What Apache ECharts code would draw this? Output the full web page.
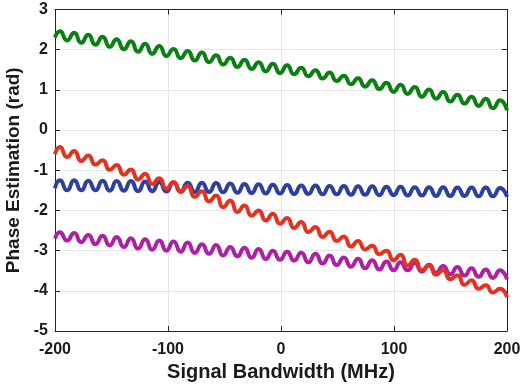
<!DOCTYPE html>
<html>
<head>
<meta charset="utf-8">
<script src="https://cdn.jsdelivr.net/npm/echarts@6/dist/echarts.min.js"></script>
<style>html,body{margin:0;padding:0;background:#fff}#c{width:521px;height:386px}</style>
</head>
<body>
<div id="c"></div>
<script>
// Frequency positions (MHz) of the sampled extrema of the ripples
var freq = [-200, -195.6, -189.3, -183.0, -176.8, -170.5, -164.2, -157.9, -151.6, -145.4, -139.1, -132.8, -126.5, -120.2, -114.0, -107.7,
  -101.4, -95.1, -88.8, -82.6, -76.3, -70.0, -63.7, -57.4, -51.2, -44.9, -38.6, -32.3, -26.0, -19.8, -13.5, -7.2,
  -0.9, 5.4, 11.6, 17.9, 24.2, 30.5, 36.8, 43.0, 49.3, 55.6, 61.9, 68.2, 74.4, 80.7, 87.0, 93.3,
  99.6, 105.8, 112.1, 118.4, 124.7, 131.0, 137.2, 143.5, 149.8, 156.1, 162.4, 168.6, 174.9, 181.2, 187.5, 193.8, 200];

var greenVals = [2.30,
  2.46, 2.23, 2.42, 2.17, 2.37, 2.12, 2.32, 2.07, 2.26, 2.01, 2.21, 1.95, 2.15, 1.90, 2.09, 1.84,
  2.02, 1.79, 1.97, 1.73, 1.93, 1.69, 1.86, 1.63, 1.80, 1.57, 1.75, 1.52, 1.69, 1.46, 1.65, 1.42,
  1.61, 1.39, 1.55, 1.34, 1.49, 1.28, 1.43, 1.22, 1.35, 1.14, 1.29, 1.08, 1.24, 1.02, 1.18, 0.95,
  1.13, 0.90, 1.07, 0.83, 1.01, 0.78, 0.95, 0.71, 0.88, 0.66, 0.83, 0.60, 0.78, 0.54, 0.74, 0.49];

var redVals = [-0.60,
  -0.42, -0.67, -0.52, -0.77, -0.63, -0.86, -0.75, -0.99, -0.87, -1.11, -0.98, -1.23, -1.09, -1.34, -1.20, -1.46,
  -1.29, -1.54, -1.39, -1.66, -1.52, -1.78, -1.63, -1.92, -1.75, -2.04, -1.88, -2.13, -2.00, -2.25, -2.08, -2.33,
  -2.19, -2.44, -2.29, -2.54, -2.41, -2.66, -2.53, -2.76, -2.65, -2.90, -2.76, -2.97, -2.88, -3.09, -3.00, -3.24,
  -3.10, -3.37, -3.23, -3.49, -3.37, -3.60, -3.49, -3.71, -3.61, -3.85, -3.74, -3.95, -3.86, -4.04, -3.95, -4.16];

var blueVals = [-1.45,
  -1.25, -1.50, -1.25, -1.50, -1.26, -1.50, -1.26, -1.51, -1.27, -1.51, -1.27, -1.52, -1.28, -1.52, -1.29, -1.53,
  -1.30, -1.53, -1.31, -1.54, -1.31, -1.54, -1.32, -1.55, -1.33, -1.56, -1.34, -1.57, -1.35, -1.58, -1.36, -1.58,
  -1.37, -1.59, -1.38, -1.59, -1.38, -1.60, -1.39, -1.60, -1.39, -1.61, -1.40, -1.61, -1.40, -1.62, -1.41, -1.62,
  -1.41, -1.63, -1.42, -1.63, -1.42, -1.64, -1.42, -1.64, -1.43, -1.64, -1.43, -1.65, -1.43, -1.65, -1.44, -1.66];

var magentaVals = [-2.70,
  -2.54, -2.75, -2.56, -2.79, -2.61, -2.84, -2.63, -2.87, -2.66, -2.91, -2.69, -2.95, -2.72, -2.98, -2.75, -3.00,
  -2.77, -3.03, -2.80, -3.06, -2.84, -3.08, -2.86, -3.12, -2.91, -3.14, -2.93, -3.18, -2.96, -3.21, -3.00, -3.23,
  -3.03, -3.25, -3.05, -3.29, -3.08, -3.32, -3.12, -3.36, -3.17, -3.40, -3.20, -3.44, -3.24, -3.47, -3.27, -3.49,
  -3.29, -3.49, -3.31, -3.52, -3.35, -3.55, -3.38, -3.59, -3.41, -3.62, -3.44, -3.65, -3.47, -3.68, -3.49, -3.72];

var xTicks = [-200, -100, 0, 100, 200];
var yTicks = [-5, -4, -3, -2, -1, 0, 1, 2, 3];

function pairs(vals) { return freq.map(function (f, i) { return [f, vals[i]]; }); }

var chart = echarts.init(document.getElementById('c'), null, { renderer: 'canvas' });
var axisCol = '#262626';
var lblFont = { fontFamily: 'Liberation Sans', fontWeight: 'bold', fontSize: 16, color: '#1a1a1a' };

function mkSeries(vals, color) {
  return {
    type: 'line', data: pairs(vals), smooth: 0.6, showSymbol: false, symbol: 'none',
    lineStyle: { color: color, width: 4 }, z: 3, animation: false
  };
}

chart.setOption({
  animation: false,
  backgroundColor: '#fff',
  grid: { left: 55, top: 9.5, width: 452, height: 321.5, containLabel: false, outerBoundsMode: 'none' },
  xAxis: [{
    type: 'value', min: xTicks[0], max: xTicks[xTicks.length - 1], interval: 100,
    name: 'Signal Bandwidth (MHz)', nameLocation: 'middle', nameGap: 29,
    nameTextStyle: { fontFamily: 'Liberation Sans', fontWeight: 'bold', fontSize: 20, color: '#1a1a1a' },
    axisLine: { show: true, onZero: false, lineStyle: { color: axisCol, width: 1 } },
    axisTick: { show: true, inside: true, length: 5, lineStyle: { color: axisCol } },
    axisLabel: Object.assign({ margin: 11 }, lblFont),
    splitLine: { show: true, lineStyle: { color: '#e6e6e6', width: 1 } }
  }, {
    type: 'value', position: 'top', min: xTicks[0], max: xTicks[xTicks.length - 1], interval: 100,
    axisLine: { show: true, onZero: false, lineStyle: { color: axisCol, width: 1 } },
    axisTick: { show: true, inside: true, length: 5, lineStyle: { color: axisCol } },
    axisLabel: { show: false }, splitLine: { show: false }
  }],
  yAxis: [{
    type: 'value', min: yTicks[0], max: yTicks[yTicks.length - 1], interval: 1,
    name: 'Phase Estimation (rad)', nameLocation: 'middle', nameGap: 27,
    nameTextStyle: { fontFamily: 'Liberation Sans', fontWeight: 'bold', fontSize: 19, color: '#1a1a1a' },
    axisLine: { show: true, onZero: false, lineStyle: { color: axisCol, width: 1 } },
    axisTick: { show: true, inside: true, length: 5, lineStyle: { color: axisCol } },
    axisLabel: Object.assign({ margin: 7 }, lblFont),
    splitLine: { show: true, lineStyle: { color: '#e6e6e6', width: 1 } }
  }, {
    type: 'value', position: 'right', min: yTicks[0], max: yTicks[yTicks.length - 1], interval: 1,
    axisLine: { show: true, onZero: false, lineStyle: { color: axisCol, width: 1 } },
    axisTick: { show: true, inside: true, length: 5, lineStyle: { color: axisCol } },
    axisLabel: { show: false }, splitLine: { show: false }
  }],
  series: [
    mkSeries(greenVals, '#0a7f12'),
    mkSeries(blueVals, '#2d3f9f'),
    mkSeries(magentaVals, '#ad1fa5'),
    mkSeries(redVals, '#e3321f')
  ]
});
</script>
</body>
</html>
